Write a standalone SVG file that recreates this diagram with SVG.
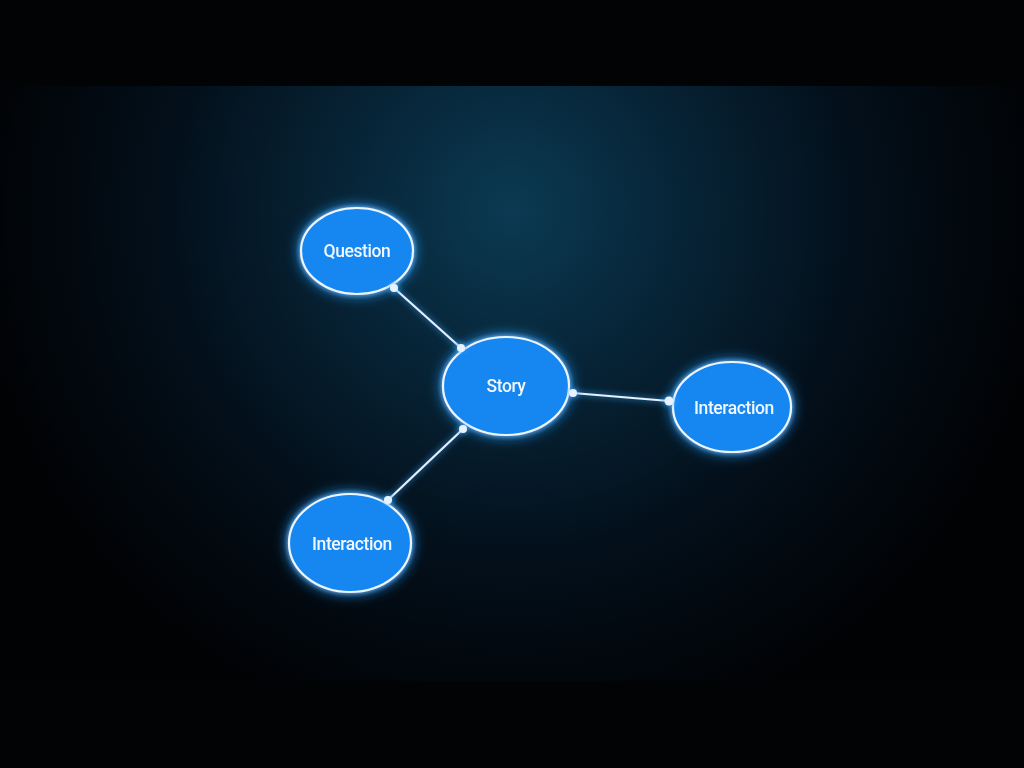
<svg xmlns="http://www.w3.org/2000/svg" width="1024" height="768" viewBox="0 0 1024 768">
<defs>
<radialGradient id="bg" cx="512" cy="210" r="540" gradientUnits="userSpaceOnUse">
<stop offset="0" stop-color="#0b3a52"/>
<stop offset="0.3" stop-color="#072538"/>
<stop offset="0.65" stop-color="#030f1a"/>
<stop offset="1" stop-color="#010204"/>
</radialGradient>
<filter id="glow" x="-50%" y="-50%" width="200%" height="200%">
<feGaussianBlur in="SourceAlpha" stdDeviation="7" result="b"/>
<feFlood flood-color="#2a9cff" flood-opacity="1"/>
<feComposite in2="b" operator="in" result="g"/>
<feGaussianBlur in="SourceAlpha" stdDeviation="2.5" result="b2"/>
<feFlood flood-color="#6cc0ff" flood-opacity="0.9"/>
<feComposite in2="b2" operator="in" result="g2"/>
<feMerge><feMergeNode in="g"/><feMergeNode in="g2"/><feMergeNode in="SourceGraphic"/></feMerge>
</filter>
<filter id="lglow" x="-50%" y="-50%" width="200%" height="200%">
<feGaussianBlur in="SourceAlpha" stdDeviation="3" result="b"/>
<feFlood flood-color="#3aa6ff" flood-opacity="1"/>
<feComposite in2="b" operator="in" result="g"/>
<feMerge><feMergeNode in="g"/><feMergeNode in="SourceGraphic"/></feMerge>
</filter>
<style>
.node{fill:#1786f0;stroke:#eaf5ff;stroke-width:2.2}
.lbl{font-family:Roboto,"Liberation Sans",sans-serif;font-size:17.5px;font-weight:500;fill:#f0f7ff;text-anchor:middle;dominant-baseline:central;letter-spacing:-0.4px}
.edge{stroke:#e2f1ff;stroke-width:2.2;fill:none}
.dot{fill:#e6f3ff}
</style>
</defs>
<rect width="1024" height="768" fill="#020304"/>
<rect x="0" y="86" width="1024" height="595" fill="url(#bg)"/>
<g id="connectors" filter="url(#lglow)">
<line class="edge" x1="394" y1="288" x2="461" y2="348"/>
<line class="edge" x1="573" y1="393" x2="669" y2="401"/>
<line class="edge" x1="463" y1="429" x2="388" y2="500"/>
</g>
<g id="node-question" filter="url(#glow)">
<ellipse class="node" cx="357" cy="251" rx="56" ry="43"/>
<text class="lbl" x="357" y="251">Question</text>
</g>
<g id="node-story" filter="url(#glow)">
<ellipse class="node" cx="506" cy="386" rx="63" ry="49"/>
<text class="lbl" x="506" y="386">Story</text>
</g>
<g id="node-interaction-right" filter="url(#glow)">
<ellipse class="node" cx="732" cy="407" rx="59" ry="45"/>
<text class="lbl" x="734" y="408">Interaction</text>
</g>
<g id="node-interaction-bottom" filter="url(#glow)">
<ellipse class="node" cx="350" cy="543" rx="61" ry="49"/>
<text class="lbl" x="352" y="544">Interaction</text>
</g>
<g id="endpoints" filter="url(#lglow)">
<circle class="dot" cx="394" cy="288" r="4"/>
<circle class="dot" cx="461" cy="348" r="4"/>
<circle class="dot" cx="573" cy="393" r="4"/>
<circle class="dot" cx="669" cy="401" r="4.5"/>
<circle class="dot" cx="463" cy="429" r="4"/>
<circle class="dot" cx="388" cy="500" r="4"/>
</g>
</svg>
